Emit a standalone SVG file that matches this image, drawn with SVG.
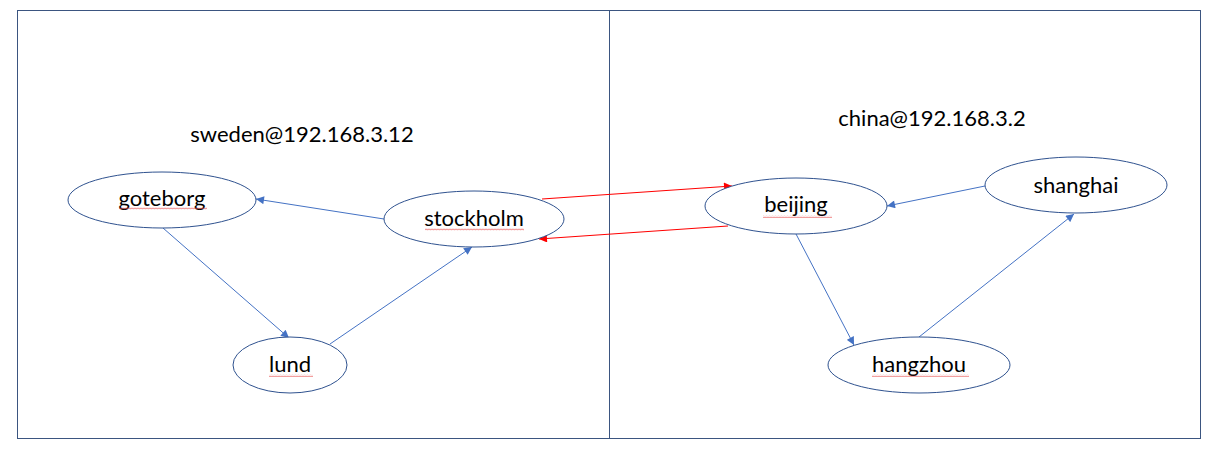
<svg xmlns="http://www.w3.org/2000/svg" width="1216" height="470" viewBox="0 0 1216 470">
<style>
.box{fill:none;stroke:#3B5580;stroke-width:1}
.node ellipse{fill:#fff;stroke:#2F528F;stroke-width:1}
.lbl{font-family:Lato,"Liberation Sans",sans-serif;font-size:22px;fill:#000;text-anchor:middle}
.blue{stroke:#4472C4;stroke-width:1;fill:none;marker-end:url(#ab)}
.red{stroke:#FF0000;stroke-width:1.2;fill:none;marker-end:url(#ar)}
.sq{fill:url(#wave)}
</style>
<defs>
<marker id="ab" viewBox="0 0 10 10" refX="10" refY="5" markerWidth="9" markerHeight="8" markerUnits="userSpaceOnUse" orient="auto"><path d="M0 0 L10 5 L0 10 Z" fill="#4472C4"/></marker>
<marker id="ar" viewBox="0 0 10 10" refX="10" refY="5" markerWidth="9" markerHeight="8" markerUnits="userSpaceOnUse" orient="auto"><path d="M0 0 L10 5 L0 10 Z" fill="#FF0000"/></marker>
<pattern id="wave" width="3" height="3" patternUnits="userSpaceOnUse"><path d="M0 2.2 L0.75 0.8 L1.5 2.2 L2.25 0.8 L3 2.2" fill="none" stroke="#E84A4A" stroke-width="0.5"/></pattern>
</defs>
<rect width="1216" height="470" fill="#fff"/>
<g id="frame">
<rect class="box" x="17.5" y="10.5" width="1183" height="428"/>
<line class="box" x1="609.5" y1="10.5" x2="609.5" y2="438.5"/>
</g>
<g id="sweden-label"><text class="lbl" x="302" y="142">sweden@192.168.3.12</text></g>
<g id="china-label"><text class="lbl" x="932" y="126">china@192.168.3.2</text></g>
<g id="connectors">
<line class="blue" x1="384" y1="219" x2="256" y2="199"/>
<line class="blue" x1="163" y1="228" x2="289" y2="338"/>
<line class="blue" x1="330" y1="344" x2="472" y2="247"/>
<line class="blue" x1="985" y1="186" x2="887" y2="206"/>
<line class="blue" x1="796" y1="234" x2="854" y2="345"/>
<line class="blue" x1="919" y1="337" x2="1074" y2="214"/>
<line class="red" x1="542" y1="199" x2="732" y2="186"/>
<line class="red" x1="728" y1="226" x2="539" y2="239"/>
</g>
<g id="goteborg" class="node"><ellipse cx="162" cy="200" rx="94" ry="28"/><text class="lbl" x="162" y="206">goteborg</text><rect class="sq" x="119" y="207" width="88" height="3"/></g>
<g id="stockholm" class="node"><ellipse cx="474" cy="219" rx="90" ry="28"/><text class="lbl" x="474" y="226">stockholm</text><rect class="sq" x="425" y="228" width="99" height="3"/></g>
<g id="lund" class="node"><ellipse cx="290" cy="365" rx="57" ry="28"/><text class="lbl" x="290" y="372">lund</text><rect class="sq" x="269" y="374" width="44" height="3"/></g>
<g id="beijing" class="node"><ellipse cx="796" cy="206" rx="91" ry="28"/><text class="lbl" x="796" y="212">beijing</text><rect class="sq" x="763" y="215" width="69" height="3"/></g>
<g id="shanghai" class="node"><ellipse cx="1076" cy="185" rx="91" ry="28"/><text class="lbl" x="1076" y="193">shanghai</text></g>
<g id="hangzhou" class="node"><ellipse cx="919" cy="365" rx="91" ry="28"/><text class="lbl" x="919" y="372">hangzhou</text><rect class="sq" x="872" y="374" width="97" height="3"/></g>
</svg>
